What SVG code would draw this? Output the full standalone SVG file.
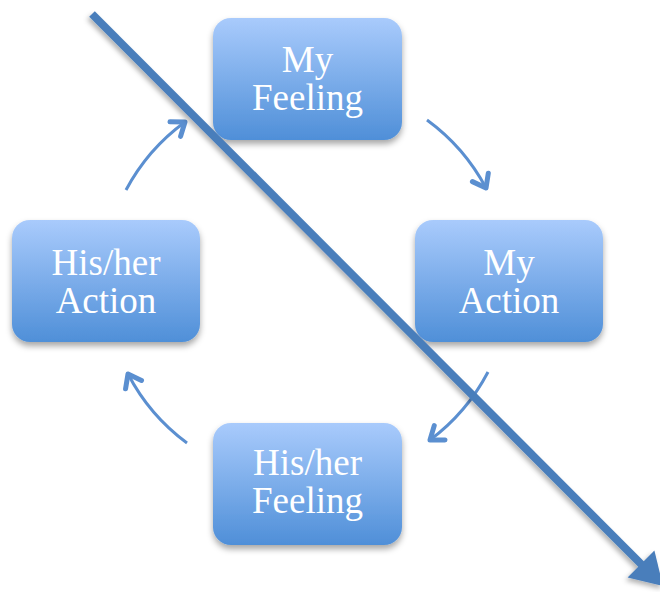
<svg xmlns="http://www.w3.org/2000/svg" width="660" height="592" viewBox="0 0 660 592">
<defs>
<linearGradient id="g" x1="0" y1="0" x2="0" y2="1">
<stop offset="0" stop-color="#a9cbfc"/>
<stop offset="1" stop-color="#4f8fd8"/>
</linearGradient>
<filter id="sh" x="-20%" y="-20%" width="140%" height="150%">
<feDropShadow dx="0" dy="4" stdDeviation="3" flood-color="#000" flood-opacity="0.35"/>
</filter>
<filter id="sh2" x="-10%" y="-10%" width="120%" height="120%">
<feDropShadow dx="-2" dy="3" stdDeviation="2.5" flood-color="#000" flood-opacity="0.3"/>
</filter>
<marker id="m" markerUnits="userSpaceOnUse" markerWidth="30" markerHeight="30" viewBox="-15 -15 30 30" refX="0" refY="0" orient="auto">
<path d="M-12,-9 L0,0 L-12,9" fill="none" stroke="#5b8fd0" stroke-width="5" stroke-linecap="round" stroke-linejoin="round"/>
</marker>
</defs>
<style>
.box{fill:url(#g);filter:url(#sh)}
.t{font-family:"Liberation Serif","Times New Roman",serif;font-size:37px;fill:#fff;text-anchor:middle}
.c{fill:none;stroke:#5b8fd0;stroke-width:3;marker-end:url(#m)}
</style>
<g id="n-my-feeling">
<rect class="box" x="213" y="18" width="189" height="122" rx="18"/>
<text class="t" x="307.5" y="72">My</text>
<text class="t" x="307.5" y="110">Feeling</text>
</g>
<g id="n-my-action">
<rect class="box" x="415" y="220" width="188" height="122" rx="18"/>
<text class="t" x="509" y="275">My</text>
<text class="t" x="509" y="313">Action</text>
</g>
<g id="n-his-feeling">
<rect class="box" x="213" y="423" width="189" height="122" rx="18"/>
<text class="t" x="307.5" y="475">His/her</text>
<text class="t" x="307.5" y="513">Feeling</text>
</g>
<g id="n-his-action">
<rect class="box" x="12" y="220" width="188" height="122" rx="18"/>
<text class="t" x="106" y="275">His/her</text>
<text class="t" x="106" y="313">Action</text>
</g>
<g id="connectors">
<path class="c" d="M427,120 A201,201 0 0 1 486,188"/>
<path class="c" d="M488,372 A201,201 0 0 1 430,440"/>
<path class="c" d="M187,443 A201,201 0 0 1 128,374"/>
<path class="c" d="M126,190 A201,201 0 0 1 185,122"/>
<g id="big-arrow" filter="url(#sh2)">
<line x1="92" y1="14" x2="645" y2="568" stroke="#4a7ebb" stroke-width="8"/>
<polygon points="663,586 654.4,550.6 627.6,577.4" fill="#4a7ebb"/>
</g>
</g>
</svg>
